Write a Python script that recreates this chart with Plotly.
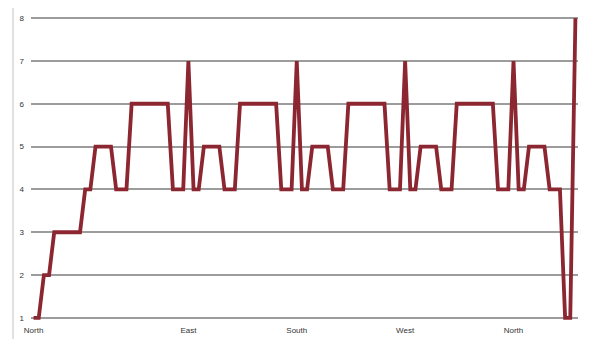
import plotly.graph_objects as go

# Series values (one per category step)
start_values = [1, 1, 2, 2, 3, 3, 3, 3, 3, 3, 4, 4, 5, 5, 5, 5, 4, 4, 4,
                6, 6, 6, 6, 6, 6, 6, 6, 4, 4, 4, 7]
segment_es = [4, 4, 5, 5, 5, 5, 4, 4, 4, 6, 6, 6, 6, 6, 6, 6, 6, 4, 4, 4, 7]
segment_sw = [4, 4, 5, 5, 5, 5, 4, 4, 4, 6, 6, 6, 6, 6, 6, 6, 6, 4, 4, 4, 7]
segment_wn = [4, 4, 5, 5, 5, 5, 4, 4, 4, 6, 6, 6, 6, 6, 6, 6, 6, 4, 4, 4, 7]
end_values = [4, 4, 5, 5, 5, 5, 4, 4, 4, 1, 1, 8]

values = start_values + segment_es + segment_sw + segment_wn + end_values
categories = list(range(len(values)))

# Category axis labels
tick_indices = [0, 30, 51, 72, 93]
tick_labels = ["North", "East", "South", "West", "North"]
y_ticks = [1, 2, 3, 4, 5, 6, 7, 8]

fig = go.Figure()
fig.add_trace(go.Scatter(
    x=categories, y=values, mode="lines",
    line=dict(color="#8C2630", width=3.8),
    hoverinfo="skip", showlegend=False, cliponaxis=False,
))

fig.update_layout(
    width=591, height=331,
    margin=dict(l=23, r=21, t=8, b=19),
    paper_bgcolor="white", plot_bgcolor="white",
    font=dict(family="Liberation Sans, Arial, sans-serif", size=8, color="#333333"),
    xaxis=dict(
        range=[-0.5, len(values) - 0.5],
        tickmode="array", tickvals=tick_indices, ticktext=tick_labels,
        showgrid=False, zeroline=False, showline=False, ticks="",
        ticklabelstandoff=4,
        tickfont=dict(size=8, color="#333333"),
        automargin=False, fixedrange=True,
    ),
    yaxis=dict(
        range=[0.95, 8.05],
        tickmode="array", tickvals=y_ticks,
        showgrid=True, gridcolor="#9c9c9c", gridwidth=1.6,
        zeroline=False, showline=False, ticks="",
        ticklabelstandoff=6,
        tickfont=dict(size=8, color="#333333"),
        automargin=False, fixedrange=True,
    ),
    shapes=[dict(
        type="line", xref="paper", yref="paper",
        x0=-18 / 547, x1=-18 / 547, y0=-0.1, y1=1.1,
        line=dict(color="#c4c4c4", width=1),
    )],
)

fig.write_html("out.html")
